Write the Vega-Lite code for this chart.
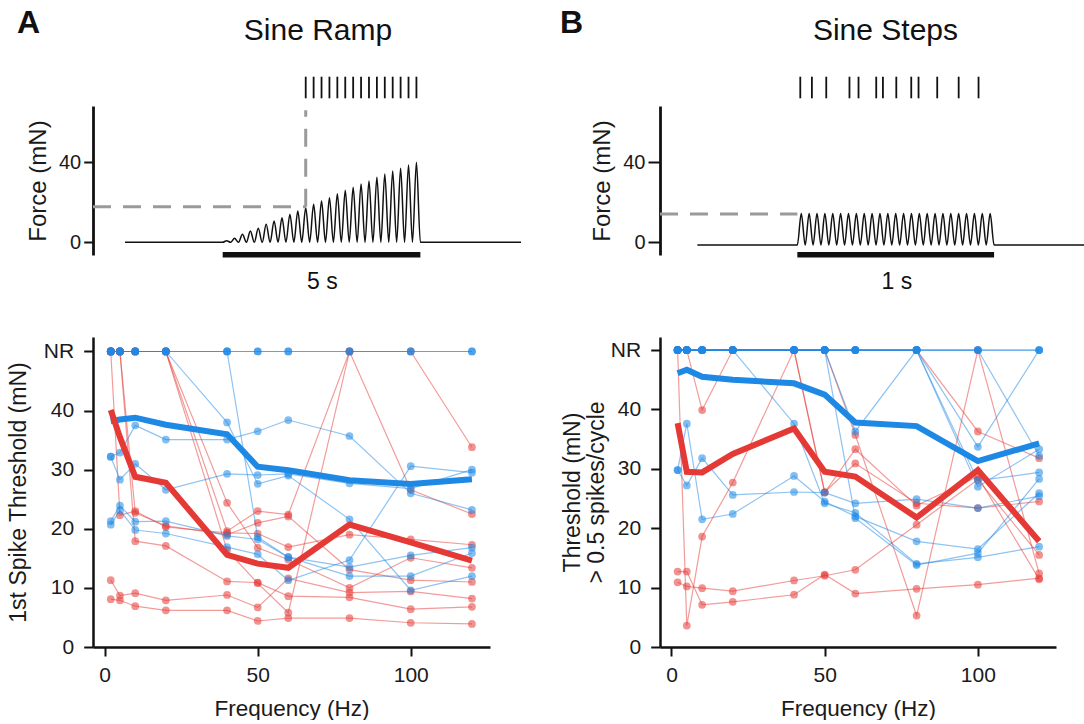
{
  "$schema": "https://vega.github.io/schema/vega-lite/v6.json",
  "padding": {"left": 7, "top": 7, "right": 0, "bottom": 0},
  "background": "white",
  "config": {
    "font": "Liberation Sans",
    "view": {"stroke": null},
    "axis": {"grid": false, "domainColor": "#111", "tickColor": "#111", "labelColor": "#1a1a1a", "titleColor": "#1a1a1a", "titleFontWeight": "normal", "labelFont": "Liberation Sans", "titleFont": "Liberation Sans", "labelOverlap": false, "labelFlush": false}
  },
  "datasets": {
    "traceA": [{"t":-2.47,"v":0},{"t":0,"v":0},{"t":0.1,"v":0.8},{"t":0.2,"v":0},{"t":0.3,"v":2},{"t":0.4,"v":0},{"t":0.5,"v":4},{"t":0.6,"v":0},{"t":0.7,"v":5.7},{"t":0.8,"v":0},{"t":0.9,"v":7},{"t":1.0,"v":0},{"t":1.1,"v":9},{"t":1.2,"v":0},{"t":1.3,"v":10.7},{"t":1.4,"v":0},{"t":1.5,"v":12.3},{"t":1.6,"v":0},{"t":1.7,"v":14},{"t":1.8,"v":0},{"t":1.9,"v":15.7},{"t":2.0,"v":0},{"t":2.1,"v":17.3},{"t":2.2,"v":0},{"t":2.3,"v":19},{"t":2.4,"v":0},{"t":2.5,"v":20.7},{"t":2.6,"v":0},{"t":2.7,"v":22.3},{"t":2.8,"v":0},{"t":2.9,"v":24.3},{"t":3.0,"v":0},{"t":3.1,"v":26},{"t":3.2,"v":0},{"t":3.3,"v":27.5},{"t":3.4,"v":0},{"t":3.5,"v":29.2},{"t":3.6,"v":0},{"t":3.7,"v":30.7},{"t":3.8,"v":0},{"t":3.9,"v":32.5},{"t":4.0,"v":0},{"t":4.1,"v":34.2},{"t":4.2,"v":0},{"t":4.3,"v":35.7},{"t":4.4,"v":0},{"t":4.5,"v":37},{"t":4.6,"v":0},{"t":4.7,"v":38.7},{"t":4.8,"v":0},{"t":4.9,"v":40},{"t":5.0,"v":0},{"t":7.545,"v":0}],
    "traceB": [{"t":-0.508,"v":-1.4},{"t":0,"v":-1.4},{"t":0.02,"v":14.4},{"t":0.04,"v":-1.4},{"t":0.06,"v":14.4},{"t":0.08,"v":-1.4},{"t":0.10,"v":14.4},{"t":0.12,"v":-1.4},{"t":0.14,"v":14.4},{"t":0.16,"v":-1.4},{"t":0.18,"v":14.4},{"t":0.20,"v":-1.4},{"t":0.22,"v":14.4},{"t":0.24,"v":-1.4},{"t":0.26,"v":14.4},{"t":0.28,"v":-1.4},{"t":0.30,"v":14.4},{"t":0.32,"v":-1.4},{"t":0.34,"v":14.4},{"t":0.36,"v":-1.4},{"t":0.38,"v":14.4},{"t":0.40,"v":-1.4},{"t":0.42,"v":14.4},{"t":0.44,"v":-1.4},{"t":0.46,"v":14.4},{"t":0.48,"v":-1.4},{"t":0.50,"v":14.4},{"t":0.52,"v":-1.4},{"t":0.54,"v":14.4},{"t":0.56,"v":-1.4},{"t":0.58,"v":14.4},{"t":0.60,"v":-1.4},{"t":0.62,"v":14.4},{"t":0.64,"v":-1.4},{"t":0.66,"v":14.4},{"t":0.68,"v":-1.4},{"t":0.70,"v":14.4},{"t":0.72,"v":-1.4},{"t":0.74,"v":14.4},{"t":0.76,"v":-1.4},{"t":0.78,"v":14.4},{"t":0.80,"v":-1.4},{"t":0.82,"v":14.4},{"t":0.84,"v":-1.4},{"t":0.86,"v":14.4},{"t":0.88,"v":-1.4},{"t":0.90,"v":14.4},{"t":0.92,"v":-1.4},{"t":0.94,"v":14.4},{"t":0.96,"v":-1.4},{"t":0.98,"v":14.4},{"t":1.0,"v":-1.4},{"t":1.457,"v":-1.4}],
    "spikesA": [{"t":2.1},{"t":2.3},{"t":2.5},{"t":2.7},{"t":2.9},{"t":3.1},{"t":3.3},{"t":3.5},{"t":3.7},{"t":3.9},{"t":4.1},{"t":4.3},{"t":4.5},{"t":4.7},{"t":4.9}],
    "spikesB": [{"t":0.015},{"t":0.074},{"t":0.147},{"t":0.265},{"t":0.311},{"t":0.401},{"t":0.435},{"t":0.503},{"t":0.579},{"t":0.616},{"t":0.711},{"t":0.82},{"t":0.921}],
    "means": [
      {"p":"A","g":"b","f":2,"v":38.2},{"p":"A","g":"b","f":5,"v":38.5},{"p":"A","g":"b","f":10,"v":38.8},{"p":"A","g":"b","f":20,"v":37.6},{"p":"A","g":"b","f":40,"v":36.0},{"p":"A","g":"b","f":50,"v":30.5},{"p":"A","g":"b","f":60,"v":29.9},{"p":"A","g":"b","f":80,"v":28.2},{"p":"A","g":"b","f":100,"v":27.6},{"p":"A","g":"b","f":120,"v":28.4},
      {"p":"A","g":"r","f":2,"v":40.1},{"p":"A","g":"r","f":5,"v":35.5},{"p":"A","g":"r","f":10,"v":28.8},{"p":"A","g":"r","f":20,"v":27.8},{"p":"A","g":"r","f":40,"v":15.6},{"p":"A","g":"r","f":50,"v":14.1},{"p":"A","g":"r","f":60,"v":13.4},{"p":"A","g":"r","f":80,"v":20.7},{"p":"A","g":"r","f":100,"v":17.7},{"p":"A","g":"r","f":120,"v":14.6},
      {"p":"B","g":"b","f":2,"v":46.1},{"p":"B","g":"b","f":5,"v":46.7},{"p":"B","g":"b","f":10,"v":45.5},{"p":"B","g":"b","f":20,"v":45.0},{"p":"B","g":"b","f":40,"v":44.4},{"p":"B","g":"b","f":50,"v":42.5},{"p":"B","g":"b","f":60,"v":37.8},{"p":"B","g":"b","f":80,"v":37.2},{"p":"B","g":"b","f":100,"v":31.3},{"p":"B","g":"b","f":120,"v":34.3},
      {"p":"B","g":"r","f":2,"v":37.7},{"p":"B","g":"r","f":5,"v":29.5},{"p":"B","g":"r","f":10,"v":29.4},{"p":"B","g":"r","f":20,"v":32.5},{"p":"B","g":"r","f":40,"v":36.8},{"p":"B","g":"r","f":50,"v":29.5},{"p":"B","g":"r","f":60,"v":28.7},{"p":"B","g":"r","f":80,"v":21.8},{"p":"B","g":"r","f":100,"v":29.8},{"p":"B","g":"r","f":120,"v":17.8}
    ],
    "subj": [
      {"p":"A","g":"b","id":"a1","f":2,"v":50},{"p":"A","g":"b","id":"a1","f":5,"v":50},{"p":"A","g":"b","id":"a1","f":10,"v":50},{"p":"A","g":"b","id":"a1","f":20,"v":50},{"p":"A","g":"b","id":"a1","f":40,"v":50},{"p":"A","g":"b","id":"a1","f":50,"v":50},{"p":"A","g":"b","id":"a1","f":60,"v":50},{"p":"A","g":"b","id":"a1","f":80,"v":50},{"p":"A","g":"b","id":"a1","f":100,"v":50},{"p":"A","g":"b","id":"a1","f":120,"v":50},
      {"p":"A","g":"b","id":"a2","f":2,"v":50},{"p":"A","g":"b","id":"a2","f":5,"v":50},{"p":"A","g":"b","id":"a2","f":10,"v":50},{"p":"A","g":"b","id":"a2","f":20,"v":50},{"p":"A","g":"b","id":"a2","f":40,"v":50},{"p":"A","g":"b","id":"a2","f":50,"v":50},{"p":"A","g":"b","id":"a2","f":60,"v":50},{"p":"A","g":"b","id":"a2","f":80,"v":50},{"p":"A","g":"b","id":"a2","f":100,"v":50},{"p":"A","g":"b","id":"a2","f":120,"v":50},
      {"p":"A","g":"b","id":"a3","f":2,"v":50},{"p":"A","g":"b","id":"a3","f":5,"v":50},{"p":"A","g":"b","id":"a3","f":10,"v":50},{"p":"A","g":"b","id":"a3","f":20,"v":50},{"p":"A","g":"b","id":"a3","f":40,"v":50},{"p":"A","g":"b","id":"a3","f":50,"v":18.6},{"p":"A","g":"b","id":"a3","f":60,"v":15.2},{"p":"A","g":"b","id":"a3","f":80,"v":13.5},{"p":"A","g":"b","id":"a3","f":100,"v":15.5},{"p":"A","g":"b","id":"a3","f":120,"v":16.8},
      {"p":"A","g":"b","id":"a4","f":2,"v":50},{"p":"A","g":"b","id":"a4","f":5,"v":50},{"p":"A","g":"b","id":"a4","f":10,"v":50},{"p":"A","g":"b","id":"a4","f":20,"v":50},{"p":"A","g":"b","id":"a4","f":40,"v":38.0},{"p":"A","g":"b","id":"a4","f":50,"v":27.6},{"p":"A","g":"b","id":"a4","f":60,"v":29.0},{"p":"A","g":"b","id":"a4","f":80,"v":21.6},{"p":"A","g":"b","id":"a4","f":100,"v":9.6},{"p":"A","g":"b","id":"a4","f":120,"v":12.0},
      {"p":"A","g":"b","id":"a5","f":2,"v":32.2},{"p":"A","g":"b","id":"a5","f":5,"v":32.9},{"p":"A","g":"b","id":"a5","f":10,"v":37.5},{"p":"A","g":"b","id":"a5","f":20,"v":35.1},{"p":"A","g":"b","id":"a5","f":40,"v":35.1},{"p":"A","g":"b","id":"a5","f":50,"v":36.5},{"p":"A","g":"b","id":"a5","f":60,"v":38.4},{"p":"A","g":"b","id":"a5","f":80,"v":35.7},{"p":"A","g":"b","id":"a5","f":100,"v":26.0},{"p":"A","g":"b","id":"a5","f":120,"v":23.2},
      {"p":"A","g":"b","id":"a6","f":2,"v":32.2},{"p":"A","g":"b","id":"a6","f":5,"v":28.3},{"p":"A","g":"b","id":"a6","f":10,"v":31.0},{"p":"A","g":"b","id":"a6","f":20,"v":26.6},{"p":"A","g":"b","id":"a6","f":40,"v":29.3},{"p":"A","g":"b","id":"a6","f":50,"v":29.1},{"p":"A","g":"b","id":"a6","f":60,"v":29.3},{"p":"A","g":"b","id":"a6","f":80,"v":27.7},{"p":"A","g":"b","id":"a6","f":100,"v":26.8},{"p":"A","g":"b","id":"a6","f":120,"v":30.0},
      {"p":"A","g":"b","id":"a7","f":2,"v":21.3},{"p":"A","g":"b","id":"a7","f":5,"v":23.9},{"p":"A","g":"b","id":"a7","f":10,"v":21.2},{"p":"A","g":"b","id":"a7","f":20,"v":21.3},{"p":"A","g":"b","id":"a7","f":40,"v":18.8},{"p":"A","g":"b","id":"a7","f":50,"v":18.2},{"p":"A","g":"b","id":"a7","f":60,"v":15.2},{"p":"A","g":"b","id":"a7","f":80,"v":12.0},{"p":"A","g":"b","id":"a7","f":100,"v":12.0},{"p":"A","g":"b","id":"a7","f":120,"v":15.9},
      {"p":"A","g":"b","id":"a8","f":2,"v":20.7},{"p":"A","g":"b","id":"a8","f":5,"v":23.1},{"p":"A","g":"b","id":"a8","f":10,"v":19.8},{"p":"A","g":"b","id":"a8","f":20,"v":19.2},{"p":"A","g":"b","id":"a8","f":40,"v":16.9},{"p":"A","g":"b","id":"a8","f":50,"v":15.7},{"p":"A","g":"b","id":"a8","f":60,"v":11.3},{"p":"A","g":"b","id":"a8","f":80,"v":14.7},{"p":"A","g":"b","id":"a8","f":100,"v":30.6},{"p":"A","g":"b","id":"a8","f":120,"v":29.5},
      {"p":"A","g":"r","id":"ar1","f":2,"v":8.1},{"p":"A","g":"r","id":"ar1","f":5,"v":7.9},{"p":"A","g":"r","id":"ar1","f":10,"v":6.9},{"p":"A","g":"r","id":"ar1","f":20,"v":6.2},{"p":"A","g":"r","id":"ar1","f":40,"v":6.2},{"p":"A","g":"r","id":"ar1","f":50,"v":4.4},{"p":"A","g":"r","id":"ar1","f":60,"v":4.9},{"p":"A","g":"r","id":"ar1","f":80,"v":4.9},{"p":"A","g":"r","id":"ar1","f":100,"v":4.1},{"p":"A","g":"r","id":"ar1","f":120,"v":3.9},
      {"p":"A","g":"r","id":"ar2","f":2,"v":11.3},{"p":"A","g":"r","id":"ar2","f":5,"v":8.7},{"p":"A","g":"r","id":"ar2","f":10,"v":9.1},{"p":"A","g":"r","id":"ar2","f":20,"v":7.9},{"p":"A","g":"r","id":"ar2","f":40,"v":8.8},{"p":"A","g":"r","id":"ar2","f":50,"v":6.7},{"p":"A","g":"r","id":"ar2","f":60,"v":11.6},{"p":"A","g":"r","id":"ar2","f":80,"v":9.2},{"p":"A","g":"r","id":"ar2","f":100,"v":9.4},{"p":"A","g":"r","id":"ar2","f":120,"v":8.2},
      {"p":"A","g":"r","id":"ar3","f":2,"v":50},{"p":"A","g":"r","id":"ar3","f":5,"v":22.3},{"p":"A","g":"r","id":"ar3","f":10,"v":23.0},{"p":"A","g":"r","id":"ar3","f":20,"v":20.3},{"p":"A","g":"r","id":"ar3","f":40,"v":19.3},{"p":"A","g":"r","id":"ar3","f":50,"v":19.2},{"p":"A","g":"r","id":"ar3","f":60,"v":16.9},{"p":"A","g":"r","id":"ar3","f":80,"v":19.0},{"p":"A","g":"r","id":"ar3","f":100,"v":18.2},{"p":"A","g":"r","id":"ar3","f":120,"v":17.3},
      {"p":"A","g":"r","id":"ar4","f":2,"v":50},{"p":"A","g":"r","id":"ar4","f":5,"v":50},{"p":"A","g":"r","id":"ar4","f":10,"v":22.7},{"p":"A","g":"r","id":"ar4","f":20,"v":20.5},{"p":"A","g":"r","id":"ar4","f":40,"v":19.0},{"p":"A","g":"r","id":"ar4","f":50,"v":21.0},{"p":"A","g":"r","id":"ar4","f":60,"v":22.1},{"p":"A","g":"r","id":"ar4","f":80,"v":13.1},{"p":"A","g":"r","id":"ar4","f":100,"v":11.3},{"p":"A","g":"r","id":"ar4","f":120,"v":11.0},
      {"p":"A","g":"r","id":"ar5","f":2,"v":50},{"p":"A","g":"r","id":"ar5","f":5,"v":50},{"p":"A","g":"r","id":"ar5","f":10,"v":17.9},{"p":"A","g":"r","id":"ar5","f":20,"v":17.1},{"p":"A","g":"r","id":"ar5","f":40,"v":11.1},{"p":"A","g":"r","id":"ar5","f":50,"v":10.9},{"p":"A","g":"r","id":"ar5","f":60,"v":8.6},{"p":"A","g":"r","id":"ar5","f":80,"v":8.4},{"p":"A","g":"r","id":"ar5","f":100,"v":6.4},{"p":"A","g":"r","id":"ar5","f":120,"v":6.8},
      {"p":"A","g":"r","id":"ar6","f":2,"v":50},{"p":"A","g":"r","id":"ar6","f":5,"v":50},{"p":"A","g":"r","id":"ar6","f":10,"v":50},{"p":"A","g":"r","id":"ar6","f":20,"v":50},{"p":"A","g":"r","id":"ar6","f":40,"v":24.4},{"p":"A","g":"r","id":"ar6","f":50,"v":16.8},{"p":"A","g":"r","id":"ar6","f":60,"v":14.8},{"p":"A","g":"r","id":"ar6","f":80,"v":10.0},{"p":"A","g":"r","id":"ar6","f":100,"v":15.1},{"p":"A","g":"r","id":"ar6","f":120,"v":13.4},
      {"p":"A","g":"r","id":"ar7","f":2,"v":50},{"p":"A","g":"r","id":"ar7","f":5,"v":50},{"p":"A","g":"r","id":"ar7","f":10,"v":50},{"p":"A","g":"r","id":"ar7","f":20,"v":50},{"p":"A","g":"r","id":"ar7","f":40,"v":19.6},{"p":"A","g":"r","id":"ar7","f":50,"v":23.0},{"p":"A","g":"r","id":"ar7","f":60,"v":22.4},{"p":"A","g":"r","id":"ar7","f":80,"v":50},{"p":"A","g":"r","id":"ar7","f":100,"v":26.6},{"p":"A","g":"r","id":"ar7","f":120,"v":22.5},
      {"p":"A","g":"r","id":"ar8","f":2,"v":50},{"p":"A","g":"r","id":"ar8","f":5,"v":50},{"p":"A","g":"r","id":"ar8","f":10,"v":50},{"p":"A","g":"r","id":"ar8","f":20,"v":50},{"p":"A","g":"r","id":"ar8","f":40,"v":16.4},{"p":"A","g":"r","id":"ar8","f":50,"v":10.8},{"p":"A","g":"r","id":"ar8","f":60,"v":5.8},{"p":"A","g":"r","id":"ar8","f":80,"v":50},{"p":"A","g":"r","id":"ar8","f":100,"v":50},{"p":"A","g":"r","id":"ar8","f":120,"v":33.8},
      {"p":"B","g":"b","id":"b1","f":2,"v":50},{"p":"B","g":"b","id":"b1","f":5,"v":50},{"p":"B","g":"b","id":"b1","f":10,"v":50},{"p":"B","g":"b","id":"b1","f":20,"v":50},{"p":"B","g":"b","id":"b1","f":40,"v":50},{"p":"B","g":"b","id":"b1","f":50,"v":50},{"p":"B","g":"b","id":"b1","f":60,"v":50},{"p":"B","g":"b","id":"b1","f":80,"v":50},{"p":"B","g":"b","id":"b1","f":100,"v":50},{"p":"B","g":"b","id":"b1","f":120,"v":50},
      {"p":"B","g":"b","id":"b2","f":2,"v":50},{"p":"B","g":"b","id":"b2","f":5,"v":50},{"p":"B","g":"b","id":"b2","f":10,"v":50},{"p":"B","g":"b","id":"b2","f":20,"v":50},{"p":"B","g":"b","id":"b2","f":40,"v":50},{"p":"B","g":"b","id":"b2","f":50,"v":50},{"p":"B","g":"b","id":"b2","f":60,"v":50},{"p":"B","g":"b","id":"b2","f":80,"v":50},{"p":"B","g":"b","id":"b2","f":100,"v":50},{"p":"B","g":"b","id":"b2","f":120,"v":50},
      {"p":"B","g":"b","id":"b3","f":2,"v":50},{"p":"B","g":"b","id":"b3","f":5,"v":50},{"p":"B","g":"b","id":"b3","f":10,"v":50},{"p":"B","g":"b","id":"b3","f":20,"v":50},{"p":"B","g":"b","id":"b3","f":40,"v":37.6},{"p":"B","g":"b","id":"b3","f":50,"v":24.2},{"p":"B","g":"b","id":"b3","f":60,"v":22.6},{"p":"B","g":"b","id":"b3","f":80,"v":14.0},{"p":"B","g":"b","id":"b3","f":100,"v":15.1},{"p":"B","g":"b","id":"b3","f":120,"v":16.9},
      {"p":"B","g":"b","id":"b4","f":2,"v":50},{"p":"B","g":"b","id":"b4","f":5,"v":50},{"p":"B","g":"b","id":"b4","f":10,"v":50},{"p":"B","g":"b","id":"b4","f":20,"v":50},{"p":"B","g":"b","id":"b4","f":40,"v":50},{"p":"B","g":"b","id":"b4","f":50,"v":50},{"p":"B","g":"b","id":"b4","f":60,"v":36.3},{"p":"B","g":"b","id":"b4","f":80,"v":50},{"p":"B","g":"b","id":"b4","f":100,"v":33.7},{"p":"B","g":"b","id":"b4","f":120,"v":50},
      {"p":"B","g":"b","id":"b5","f":2,"v":50},{"p":"B","g":"b","id":"b5","f":5,"v":50},{"p":"B","g":"b","id":"b5","f":10,"v":50},{"p":"B","g":"b","id":"b5","f":20,"v":50},{"p":"B","g":"b","id":"b5","f":40,"v":50},{"p":"B","g":"b","id":"b5","f":50,"v":50},{"p":"B","g":"b","id":"b5","f":60,"v":21.7},{"p":"B","g":"b","id":"b5","f":80,"v":13.8},{"p":"B","g":"b","id":"b5","f":100,"v":15.8},{"p":"B","g":"b","id":"b5","f":120,"v":28.3},
      {"p":"B","g":"b","id":"b6","f":2,"v":50},{"p":"B","g":"b","id":"b6","f":5,"v":50},{"p":"B","g":"b","id":"b6","f":10,"v":50},{"p":"B","g":"b","id":"b6","f":20,"v":50},{"p":"B","g":"b","id":"b6","f":40,"v":50},{"p":"B","g":"b","id":"b6","f":50,"v":50},{"p":"B","g":"b","id":"b6","f":60,"v":50},{"p":"B","g":"b","id":"b6","f":80,"v":50},{"p":"B","g":"b","id":"b6","f":100,"v":27.0},{"p":"B","g":"b","id":"b6","f":120,"v":33.3},
      {"p":"B","g":"b","id":"b7","f":2,"v":50},{"p":"B","g":"b","id":"b7","f":5,"v":50},{"p":"B","g":"b","id":"b7","f":10,"v":50},{"p":"B","g":"b","id":"b7","f":20,"v":50},{"p":"B","g":"b","id":"b7","f":40,"v":50},{"p":"B","g":"b","id":"b7","f":50,"v":50},{"p":"B","g":"b","id":"b7","f":60,"v":50},{"p":"B","g":"b","id":"b7","f":80,"v":50},{"p":"B","g":"b","id":"b7","f":100,"v":28.0},{"p":"B","g":"b","id":"b7","f":120,"v":29.4},
      {"p":"B","g":"b","id":"b8","f":2,"v":50},{"p":"B","g":"b","id":"b8","f":5,"v":50},{"p":"B","g":"b","id":"b8","f":10,"v":50},{"p":"B","g":"b","id":"b8","f":20,"v":50},{"p":"B","g":"b","id":"b8","f":40,"v":50},{"p":"B","g":"b","id":"b8","f":50,"v":50},{"p":"B","g":"b","id":"b8","f":60,"v":50},{"p":"B","g":"b","id":"b8","f":80,"v":50},{"p":"B","g":"b","id":"b8","f":100,"v":50},{"p":"B","g":"b","id":"b8","f":120,"v":32.2},
      {"p":"B","g":"b","id":"b9","f":2,"v":29.8},{"p":"B","g":"b","id":"b9","f":5,"v":37.6},{"p":"B","g":"b","id":"b9","f":10,"v":21.5},{"p":"B","g":"b","id":"b9","f":20,"v":22.4},{"p":"B","g":"b","id":"b9","f":40,"v":28.8},{"p":"B","g":"b","id":"b9","f":50,"v":24.5},{"p":"B","g":"b","id":"b9","f":60,"v":22.0},{"p":"B","g":"b","id":"b9","f":80,"v":17.8},{"p":"B","g":"b","id":"b9","f":100,"v":16.5},{"p":"B","g":"b","id":"b9","f":120,"v":25.9},
      {"p":"B","g":"b","id":"b10","f":2,"v":29.8},{"p":"B","g":"b","id":"b10","f":5,"v":27.2},{"p":"B","g":"b","id":"b10","f":10,"v":31.8},{"p":"B","g":"b","id":"b10","f":20,"v":25.6},{"p":"B","g":"b","id":"b10","f":40,"v":26.1},{"p":"B","g":"b","id":"b10","f":50,"v":26.0},{"p":"B","g":"b","id":"b10","f":60,"v":24.2},{"p":"B","g":"b","id":"b10","f":80,"v":24.9},{"p":"B","g":"b","id":"b10","f":100,"v":23.4},{"p":"B","g":"b","id":"b10","f":120,"v":25.4},
      {"p":"B","g":"r","id":"br1","f":2,"v":12.7},{"p":"B","g":"r","id":"br1","f":5,"v":12.7},{"p":"B","g":"r","id":"br1","f":10,"v":7.1},{"p":"B","g":"r","id":"br1","f":20,"v":7.6},{"p":"B","g":"r","id":"br1","f":40,"v":8.8},{"p":"B","g":"r","id":"br1","f":50,"v":12.2},{"p":"B","g":"r","id":"br1","f":60,"v":9.0},{"p":"B","g":"r","id":"br1","f":80,"v":9.8},{"p":"B","g":"r","id":"br1","f":100,"v":10.5},{"p":"B","g":"r","id":"br1","f":120,"v":11.6},
      {"p":"B","g":"r","id":"br2","f":2,"v":10.9},{"p":"B","g":"r","id":"br2","f":5,"v":10.2},{"p":"B","g":"r","id":"br2","f":10,"v":9.9},{"p":"B","g":"r","id":"br2","f":20,"v":9.4},{"p":"B","g":"r","id":"br2","f":40,"v":11.2},{"p":"B","g":"r","id":"br2","f":50,"v":12.0},{"p":"B","g":"r","id":"br2","f":60,"v":13.0},{"p":"B","g":"r","id":"br2","f":80,"v":20.6},{"p":"B","g":"r","id":"br2","f":100,"v":28.2},{"p":"B","g":"r","id":"br2","f":120,"v":15.5},
      {"p":"B","g":"r","id":"br3","f":2,"v":50},{"p":"B","g":"r","id":"br3","f":5,"v":3.6},{"p":"B","g":"r","id":"br3","f":10,"v":18.6},{"p":"B","g":"r","id":"br3","f":20,"v":27.7},{"p":"B","g":"r","id":"br3","f":40,"v":50},{"p":"B","g":"r","id":"br3","f":50,"v":26.1},{"p":"B","g":"r","id":"br3","f":60,"v":30.9},{"p":"B","g":"r","id":"br3","f":80,"v":24.2},{"p":"B","g":"r","id":"br3","f":100,"v":23.4},{"p":"B","g":"r","id":"br3","f":120,"v":24.5},
      {"p":"B","g":"r","id":"br4","f":2,"v":50},{"p":"B","g":"r","id":"br4","f":5,"v":50},{"p":"B","g":"r","id":"br4","f":10,"v":39.9},{"p":"B","g":"r","id":"br4","f":20,"v":50},{"p":"B","g":"r","id":"br4","f":40,"v":50},{"p":"B","g":"r","id":"br4","f":50,"v":26.0},{"p":"B","g":"r","id":"br4","f":60,"v":33.3},{"p":"B","g":"r","id":"br4","f":80,"v":23.8},{"p":"B","g":"r","id":"br4","f":100,"v":28.7},{"p":"B","g":"r","id":"br4","f":120,"v":11.4},
      {"p":"B","g":"r","id":"br5","f":2,"v":50},{"p":"B","g":"r","id":"br5","f":5,"v":50},{"p":"B","g":"r","id":"br5","f":10,"v":50},{"p":"B","g":"r","id":"br5","f":20,"v":50},{"p":"B","g":"r","id":"br5","f":40,"v":50},{"p":"B","g":"r","id":"br5","f":50,"v":50},{"p":"B","g":"r","id":"br5","f":60,"v":35.7},{"p":"B","g":"r","id":"br5","f":80,"v":5.3},{"p":"B","g":"r","id":"br5","f":100,"v":50},{"p":"B","g":"r","id":"br5","f":120,"v":12.4},
      {"p":"B","g":"r","id":"br6","f":2,"v":50},{"p":"B","g":"r","id":"br6","f":5,"v":50},{"p":"B","g":"r","id":"br6","f":10,"v":50},{"p":"B","g":"r","id":"br6","f":20,"v":50},{"p":"B","g":"r","id":"br6","f":40,"v":50},{"p":"B","g":"r","id":"br6","f":50,"v":50},{"p":"B","g":"r","id":"br6","f":60,"v":50},{"p":"B","g":"r","id":"br6","f":80,"v":50},{"p":"B","g":"r","id":"br6","f":100,"v":36.3},{"p":"B","g":"r","id":"br6","f":120,"v":31.8}
    ]
  },
  "spacing": 35,
  "hconcat": [
    {
      "spacing": 42,
      "vconcat": [
        {
          "width": 428, "height": 149,
          "layer": [
            {"data": {"name": "traceA"}, "mark": {"type": "line", "color": "#111", "strokeWidth": 1.5, "interpolate": "monotone"},
             "encoding": {"x": {"field": "t", "type": "quantitative", "scale": {"domain": [-3.28, 7.545], "nice": false, "zero": false}, "axis": null},
                          "y": {"field": "v", "type": "quantitative", "scale": {"domain": [-6.35, 68.15], "nice": false, "zero": false}, "axis": {"title": "Force (mN)", "values": [0, 40], "domainWidth": 2.8, "tickWidth": 2, "tickSize": 9.3, "labelFontSize": 20, "labelPadding": 3, "titleFontSize": 24, "titlePadding": 8}}}},
            {"data": {"values": [{}]}, "mark": {"type": "rule", "color": "#9a9a9a", "strokeWidth": 3, "strokeDash": [18, 12]},
             "encoding": {"x": {"datum": -3.28, "type": "quantitative", "scale": {"domain": [-3.28, 7.545], "nice": false, "zero": false}, "axis": null}, "x2": {"datum": 2.1},
                          "y": {"datum": 17.8, "type": "quantitative", "scale": {"domain": [-6.35, 68.15], "nice": false, "zero": false}, "axis": {"title": "Force (mN)", "values": [0, 40], "domainWidth": 2.8, "tickWidth": 2, "tickSize": 9.3, "labelFontSize": 20, "labelPadding": 3, "titleFontSize": 24, "titlePadding": 8}}}},
            {"data": {"values": [{}]}, "mark": {"type": "rule", "color": "#9a9a9a", "strokeWidth": 3, "strokeDash": [18, 12]},
             "encoding": {"x": {"datum": 2.1, "type": "quantitative", "scale": {"domain": [-3.28, 7.545], "nice": false, "zero": false}, "axis": null},
                          "y": {"datum": 17.8, "type": "quantitative", "scale": {"domain": [-6.35, 68.15], "nice": false, "zero": false}, "axis": {"title": "Force (mN)", "values": [0, 40], "domainWidth": 2.8, "tickWidth": 2, "tickSize": 9.3, "labelFontSize": 20, "labelPadding": 3, "titleFontSize": 24, "titlePadding": 8}}, "y2": {"datum": 66}}},
            {"data": {"name": "spikesA"}, "mark": {"type": "rule", "color": "#111", "strokeWidth": 1.8},
             "encoding": {"x": {"field": "t", "type": "quantitative", "scale": {"domain": [-3.28, 7.545], "nice": false, "zero": false}, "axis": null},
                          "y": {"datum": 72, "type": "quantitative", "scale": {"domain": [-6.35, 68.15], "nice": false, "zero": false}, "axis": {"title": "Force (mN)", "values": [0, 40], "domainWidth": 2.8, "tickWidth": 2, "tickSize": 9.3, "labelFontSize": 20, "labelPadding": 3, "titleFontSize": 24, "titlePadding": 8}}, "y2": {"datum": 82.8}}},
            {"data": {"values": [{}]}, "mark": {"type": "rule", "color": "#111", "strokeWidth": 5.5},
             "encoding": {"x": {"datum": 0, "type": "quantitative", "scale": {"domain": [-3.28, 7.545], "nice": false, "zero": false}, "axis": null}, "x2": {"datum": 5},
                          "y": {"datum": -6.2, "type": "quantitative", "scale": {"domain": [-6.35, 68.15], "nice": false, "zero": false}, "axis": {"title": "Force (mN)", "values": [0, 40], "domainWidth": 2.8, "tickWidth": 2, "tickSize": 9.3, "labelFontSize": 20, "labelPadding": 3, "titleFontSize": 24, "titlePadding": 8}}}},
            {"data": {"values": [{}]}, "mark": {"type": "text", "text": "5 s", "fontSize": 23, "color": "#111", "align": "center", "baseline": "alphabetic"},
             "encoding": {"x": {"datum": 2.52, "type": "quantitative", "scale": {"domain": [-3.28, 7.545], "nice": false, "zero": false}, "axis": null},
                          "y": {"datum": -23.5, "type": "quantitative", "scale": {"domain": [-6.35, 68.15], "nice": false, "zero": false}, "axis": {"title": "Force (mN)", "values": [0, 40], "domainWidth": 2.8, "tickWidth": 2, "tickSize": 9.3, "labelFontSize": 20, "labelPadding": 3, "titleFontSize": 24, "titlePadding": 8}}}},
            {"data": {"values": [{}]}, "mark": {"type": "text", "text": "Sine Ramp", "fontSize": 30, "color": "#111", "align": "center", "baseline": "alphabetic"},
             "encoding": {"x": {"datum": 2.41, "type": "quantitative", "scale": {"domain": [-3.28, 7.545], "nice": false, "zero": false}, "axis": null},
                          "y": {"datum": 101.2, "type": "quantitative", "scale": {"domain": [-6.35, 68.15], "nice": false, "zero": false}, "axis": {"title": "Force (mN)", "values": [0, 40], "domainWidth": 2.8, "tickWidth": 2, "tickSize": 9.3, "labelFontSize": 20, "labelPadding": 3, "titleFontSize": 24, "titlePadding": 8}}}},
            {"data": {"values": [{}]}, "mark": {"type": "text", "text": "A", "fontSize": 32, "fontWeight": "bold", "color": "#111", "align": "center", "baseline": "alphabetic"},
             "encoding": {"x": {"datum": -4.91, "type": "quantitative", "scale": {"domain": [-3.28, 7.545], "nice": false, "zero": false}, "axis": null},
                          "y": {"datum": 104.5, "type": "quantitative", "scale": {"domain": [-6.35, 68.15], "nice": false, "zero": false}, "axis": {"title": "Force (mN)", "values": [0, 40], "domainWidth": 2.8, "tickWidth": 2, "tickSize": 9.3, "labelFontSize": 20, "labelPadding": 3, "titleFontSize": 24, "titlePadding": 8}}}}
          ]
        },
        {
          "width": 397, "height": 310,
          "encoding": {
            "x": {"field": "f", "type": "quantitative", "scale": {"domain": [-3.8, 125.9], "nice": false, "zero": false},
                  "axis": {"title": "Frequency (Hz)", "values": [0, 50, 100], "domainWidth": 2.5, "tickWidth": 2, "tickSize": 9, "labelFontSize": 21, "labelPadding": 8, "titleFontSize": 22.5, "titlePadding": 12}},
            "y": {"field": "v", "type": "quantitative", "scale": {"domain": [0, 52.45], "nice": false},
                  "axis": {"title": "1st Spike Threshold (mN)", "values": [0, 10, 20, 30, 40, 50], "labelExpr": "datum.value == 50 ? 'NR' : datum.label", "domainWidth": 2.5, "tickWidth": 2, "tickSize": 9.3, "labelFontSize": 21, "labelPadding": 10, "titleFontSize": 23, "titlePadding": 13}}
          },
          "layer": [
            {"data": {"name": "subj"}, "transform": [{"filter": "datum.p == 'A' && datum.g == 'r'"}], "mark": {"type": "line", "color": "#E53935", "strokeWidth": 1.2, "opacity": 0.5}, "encoding": {"detail": {"field": "id"}}},
            {"data": {"name": "subj"}, "transform": [{"filter": "datum.p == 'A' && datum.g == 'r'"}], "mark": {"type": "circle", "color": "#E53935", "size": 60, "opacity": 0.55}},
            {"data": {"name": "subj"}, "transform": [{"filter": "datum.p == 'A' && datum.g == 'b'"}], "mark": {"type": "line", "color": "#1E88E5", "strokeWidth": 1.2, "opacity": 0.5}, "encoding": {"detail": {"field": "id"}}},
            {"data": {"name": "subj"}, "transform": [{"filter": "datum.p == 'A' && datum.g == 'b'"}], "mark": {"type": "circle", "color": "#1E88E5", "size": 60, "opacity": 0.55}},
            {"data": {"name": "means"}, "transform": [{"filter": "datum.p == 'A' && datum.g == 'b'"}], "mark": {"type": "line", "color": "#1E88E5", "strokeWidth": 6}},
            {"data": {"name": "means"}, "transform": [{"filter": "datum.p == 'A' && datum.g == 'r'"}], "mark": {"type": "line", "color": "#E53935", "strokeWidth": 6}}
          ]
        }
      ]
    },
    {
      "spacing": 42,
      "vconcat": [
        {
          "width": 424, "height": 149,
          "layer": [
            {"data": {"name": "traceB"}, "mark": {"type": "line", "color": "#111", "strokeWidth": 1.5, "interpolate": "monotone"},
             "encoding": {"x": {"field": "t", "type": "quantitative", "scale": {"domain": [-0.698, 1.457], "nice": false, "zero": false}, "axis": null},
                          "y": {"field": "v", "type": "quantitative", "scale": {"domain": [-6.35, 68.15], "nice": false, "zero": false}, "axis": {"title": "Force (mN)", "values": [0, 40], "domainWidth": 2.8, "tickWidth": 2, "tickSize": 12, "labelFontSize": 20, "labelPadding": 3, "titleFontSize": 24, "titlePadding": 8}}}},
            {"data": {"values": [{}]}, "mark": {"type": "rule", "color": "#9a9a9a", "strokeWidth": 3, "strokeDash": [18, 12]},
             "encoding": {"x": {"datum": -0.698, "type": "quantitative", "scale": {"domain": [-0.698, 1.457], "nice": false, "zero": false}, "axis": null}, "x2": {"datum": 0},
                          "y": {"datum": 14.2, "type": "quantitative", "scale": {"domain": [-6.35, 68.15], "nice": false, "zero": false}, "axis": {"title": "Force (mN)", "values": [0, 40], "domainWidth": 2.8, "tickWidth": 2, "tickSize": 12, "labelFontSize": 20, "labelPadding": 3, "titleFontSize": 24, "titlePadding": 8}}}},
            {"data": {"name": "spikesB"}, "mark": {"type": "rule", "color": "#111", "strokeWidth": 1.8},
             "encoding": {"x": {"field": "t", "type": "quantitative", "scale": {"domain": [-0.698, 1.457], "nice": false, "zero": false}, "axis": null},
                          "y": {"datum": 72, "type": "quantitative", "scale": {"domain": [-6.35, 68.15], "nice": false, "zero": false}, "axis": {"title": "Force (mN)", "values": [0, 40], "domainWidth": 2.8, "tickWidth": 2, "tickSize": 12, "labelFontSize": 20, "labelPadding": 3, "titleFontSize": 24, "titlePadding": 8}}, "y2": {"datum": 82.8}}},
            {"data": {"values": [{}]}, "mark": {"type": "rule", "color": "#111", "strokeWidth": 5.5},
             "encoding": {"x": {"datum": 0, "type": "quantitative", "scale": {"domain": [-0.698, 1.457], "nice": false, "zero": false}, "axis": null}, "x2": {"datum": 1},
                          "y": {"datum": -6.2, "type": "quantitative", "scale": {"domain": [-6.35, 68.15], "nice": false, "zero": false}, "axis": {"title": "Force (mN)", "values": [0, 40], "domainWidth": 2.8, "tickWidth": 2, "tickSize": 12, "labelFontSize": 20, "labelPadding": 3, "titleFontSize": 24, "titlePadding": 8}}}},
            {"data": {"values": [{}]}, "mark": {"type": "text", "text": "1 s", "fontSize": 23, "color": "#111", "align": "center", "baseline": "alphabetic"},
             "encoding": {"x": {"datum": 0.506, "type": "quantitative", "scale": {"domain": [-0.698, 1.457], "nice": false, "zero": false}, "axis": null},
                          "y": {"datum": -23.5, "type": "quantitative", "scale": {"domain": [-6.35, 68.15], "nice": false, "zero": false}, "axis": {"title": "Force (mN)", "values": [0, 40], "domainWidth": 2.8, "tickWidth": 2, "tickSize": 12, "labelFontSize": 20, "labelPadding": 3, "titleFontSize": 24, "titlePadding": 8}}}},
            {"data": {"values": [{}]}, "mark": {"type": "text", "text": "Sine Steps", "fontSize": 30, "color": "#111", "align": "center", "baseline": "alphabetic"},
             "encoding": {"x": {"datum": 0.448, "type": "quantitative", "scale": {"domain": [-0.698, 1.457], "nice": false, "zero": false}, "axis": null},
                          "y": {"datum": 101.2, "type": "quantitative", "scale": {"domain": [-6.35, 68.15], "nice": false, "zero": false}, "axis": {"title": "Force (mN)", "values": [0, 40], "domainWidth": 2.8, "tickWidth": 2, "tickSize": 12, "labelFontSize": 20, "labelPadding": 3, "titleFontSize": 24, "titlePadding": 8}}}},
            {"data": {"values": [{}]}, "mark": {"type": "text", "text": "B", "fontSize": 32, "fontWeight": "bold", "color": "#111", "align": "center", "baseline": "alphabetic"},
             "encoding": {"x": {"datum": -1.148, "type": "quantitative", "scale": {"domain": [-0.698, 1.457], "nice": false, "zero": false}, "axis": null},
                          "y": {"datum": 104.5, "type": "quantitative", "scale": {"domain": [-6.35, 68.15], "nice": false, "zero": false}, "axis": {"title": "Force (mN)", "values": [0, 40], "domainWidth": 2.8, "tickWidth": 2, "tickSize": 12, "labelFontSize": 20, "labelPadding": 3, "titleFontSize": 24, "titlePadding": 8}}}}
          ]
        },
        {
          "width": 396, "height": 310,
          "encoding": {
            "x": {"field": "f", "type": "quantitative", "scale": {"domain": [-3.75, 125.5], "nice": false, "zero": false},
                  "axis": {"title": "Frequency (Hz)", "values": [0, 50, 100], "domainWidth": 2.5, "tickWidth": 2, "tickSize": 9, "labelFontSize": 21, "labelPadding": 8, "titleFontSize": 22.5, "titlePadding": 12}},
            "y": {"field": "v", "type": "quantitative", "scale": {"domain": [0, 52.2], "nice": false},
                  "axis": {"title": ["Threshold (mN)", "> 0.5 spikes/cycle"], "titleLineHeight": 24, "values": [0, 10, 20, 30, 40, 50], "labelExpr": "datum.value == 50 ? 'NR' : datum.label", "domainWidth": 2.5, "tickWidth": 2, "tickSize": 9.3, "labelFontSize": 21, "labelPadding": 10, "titleFontSize": 23, "titlePadding": 2}}
          },
          "layer": [
            {"data": {"name": "subj"}, "transform": [{"filter": "datum.p == 'B' && datum.g == 'r'"}], "mark": {"type": "line", "color": "#E53935", "strokeWidth": 1.2, "opacity": 0.5}, "encoding": {"detail": {"field": "id"}}},
            {"data": {"name": "subj"}, "transform": [{"filter": "datum.p == 'B' && datum.g == 'r'"}], "mark": {"type": "circle", "color": "#E53935", "size": 60, "opacity": 0.55}},
            {"data": {"name": "subj"}, "transform": [{"filter": "datum.p == 'B' && datum.g == 'b'"}], "mark": {"type": "line", "color": "#1E88E5", "strokeWidth": 1.2, "opacity": 0.5}, "encoding": {"detail": {"field": "id"}}},
            {"data": {"name": "subj"}, "transform": [{"filter": "datum.p == 'B' && datum.g == 'b'"}], "mark": {"type": "circle", "color": "#1E88E5", "size": 60, "opacity": 0.55}},
            {"data": {"name": "means"}, "transform": [{"filter": "datum.p == 'B' && datum.g == 'b'"}], "mark": {"type": "line", "color": "#1E88E5", "strokeWidth": 6}},
            {"data": {"name": "means"}, "transform": [{"filter": "datum.p == 'B' && datum.g == 'r'"}], "mark": {"type": "line", "color": "#E53935", "strokeWidth": 6}}
          ]
        }
      ]
    }
  ]
}
